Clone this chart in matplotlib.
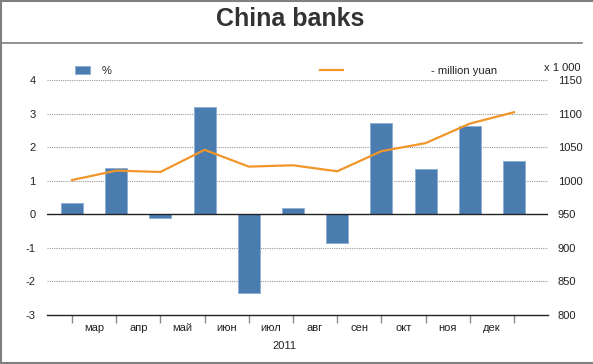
import matplotlib
matplotlib.use("Agg")
import matplotlib.pyplot as plt
from matplotlib.lines import Line2D
from matplotlib.patches import Patch

plt.rcParams['font.family'] = ['Liberation Sans', 'DejaVu Sans']

months = ['мар', 'апр', 'май', 'июн', 'июл', 'авг', 'сен', 'окт', 'ноя', 'дек']
pct = [0.33, 1.37, -0.11, 3.2, -2.33, 0.18, -0.87, 2.72, 1.34, 2.63, 1.6]
yuan = [1001, 1015, 1013, 1046, 1021, 1023, 1014, 1044, 1056, 1085, 1102]
left_ticks = [-3, -2, -1, 0, 1, 2, 3, 4]
right_ticks = [800, 850, 900, 950, 1000, 1050, 1100, 1150]
year = '2011'

W, H = 593, 364
fig = plt.figure(figsize=(W / 100, H / 100), dpi=100)
fig.patch.set_facecolor('white')

ax = fig.add_axes([46.5 / W, (H - 315) / H, (548 - 46.5) / W, (315 - 80) / H])
ax2 = ax.twinx()

x = list(range(len(pct)))
bar_color = '#4a7cb0'
line_color = '#f0962a'

# gridlines
for t in left_ticks[1:]:
    if t == 0:
        continue
    ax.axhline(t, color='#9a9a9a', lw=0.8, ls=(0, (1, 1)), zorder=0)

ax.bar(x, pct, width=0.5, color=bar_color, edgecolor='#8fb0d2', linewidth=0.7, zorder=2)
ax.axhline(0, color='#222222', lw=1.0, zorder=3)

ax2.plot(x, yuan, color=line_color, lw=1.6, zorder=4)

ax.set_xlim(-0.577, 10.77)
ax.set_ylim(-3, 4)
ax2.set_ylim(800, 1150)
ax.set_yticks(left_ticks)
ax.set_yticklabels([str(t) for t in left_ticks])
ax2.set_yticks(right_ticks)
ax2.set_yticklabels([str(t) for t in right_ticks])

for a in (ax, ax2):
    for s in ('top', 'left', 'right'):
        a.spines[s].set_visible(False)
    a.spines['bottom'].set_visible(False)
ax.spines['bottom'].set_visible(True)
ax.spines['bottom'].set_color('#222222')
ax.spines['bottom'].set_linewidth(1.0)

ax.tick_params(axis='y', length=0, pad=8, labelsize=8, labelcolor='#222222')
ax2.tick_params(axis='y', length=0, pad=7, labelsize=8, labelcolor='#222222')

ax.set_xticks(x)
ax.set_xticklabels([''] * len(x))
ax.tick_params(axis='x', which='major', length=6, width=1, color='#8a8a8a', direction='out')
ax.set_xticks([i + 0.5 for i in range(len(months))], minor=True)
ax.set_xticklabels(months, minor=True)
ax.tick_params(axis='x', which='minor', length=0, pad=6, labelsize=8, labelcolor='#222222')

fig.text(284 / W, 1 - 346 / H, year, ha='center', va='center', fontsize=8, color='#222222')
fig.text(544 / W, 1 - 68 / H, 'x 1 000', ha='left', va='center', fontsize=8, color='#222222')

# title
fig.text(290 / W, 1 - 19 / H, 'China banks', ha='center', va='center', fontsize=18,
         fontweight='bold', color='#333333')

# frame lines
fig.add_artist(Line2D([0, 582 / W], [1 - 43 / H, 1 - 43 / H], color='#808080', lw=1.2))
fig.add_artist(Line2D([0, 1], [1 - 1 / H, 1 - 1 / H], color='#808080', lw=1.5))
fig.add_artist(Line2D([1 / W, 1 / W], [0, 1], color='#808080', lw=1.5))
fig.add_artist(Line2D([0, 1], [1 / H, 1 / H], color='#808080', lw=1.5))

# legends
leg1 = fig.legend([Patch(facecolor=bar_color, edgecolor='#8fb0d2', linewidth=0.7)], ['%'],
                  loc='center left', bbox_to_anchor=(75 / W, 1 - 71 / H), frameon=False,
                  borderpad=0, borderaxespad=0, handlelength=1.35, handleheight=0.63,
                  handletextpad=1.05, fontsize=8)
for t in leg1.get_texts():
    t.set_color('#222222')
leg2 = fig.legend([Line2D([0], [0], color=line_color, lw=1.6)], ['- million yuan'],
                  loc='center left', bbox_to_anchor=(320 / W, 1 - 71 / H), frameon=False,
                  borderpad=0, borderaxespad=0, handlelength=2.07,
                  handletextpad=7.9, fontsize=8)
for t in leg2.get_texts():
    t.set_color('#222222')

fig.savefig('out.png', dpi=100)
